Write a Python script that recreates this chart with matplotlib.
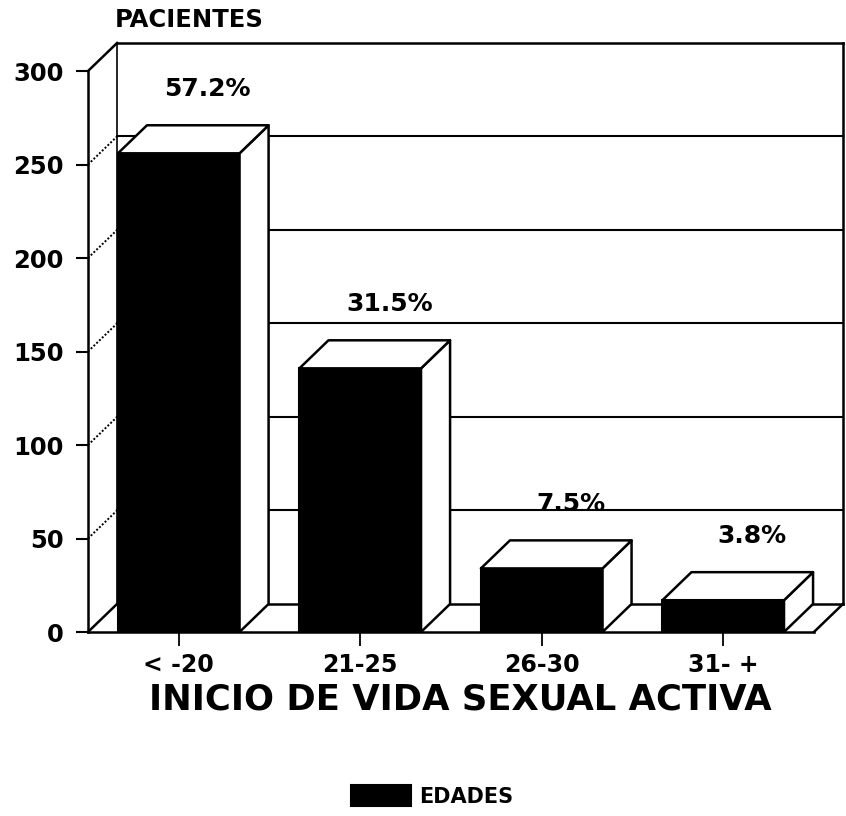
import matplotlib
matplotlib.use("Agg")
import matplotlib.pyplot as plt
from matplotlib.patches import Polygon

# ---- data ----
categories = ["< -20", "21-25", "26-30", "31- +"]
values = [256, 141, 34, 17]
percent_labels = ["57.2%", "31.5%", "7.5%", "3.8%"]
yticks = [0, 50, 100, 150, 200, 250, 300]
series_name = "EDADES"

# ---- layout ----
W, H = 846, 816
fig = plt.figure(figsize=(W / 100, H / 100), dpi=100)
fig.patch.set_facecolor("white")

px_left, px_right = 88, 843
px_bottom, px_top = 632, 43
ax = fig.add_axes([px_left / W, (H - px_bottom) / H,
                   (px_right - px_left) / W, (px_bottom - px_top) / H])

ymax = 300
dy = 15.0            # depth offset in data units (vertical)
dx = 0.16            # depth offset in category units (horizontal)
xmax = 4 + dx
ax.set_xlim(0, xmax)
ax.set_ylim(0, ymax + dy)
ax.set_facecolor("none")

lw = 1.8
FONT = "DejaVu Sans"

# back wall
ax.plot([dx, xmax], [ymax + dy, ymax + dy], color="black", lw=lw, zorder=1, clip_on=False)
ax.plot([xmax, xmax], [dy, ymax + dy], color="black", lw=lw, zorder=1, clip_on=False)
ax.plot([dx, dx], [dy, ymax + dy], color="black", lw=1.2, zorder=1, clip_on=False)
ax.plot([dx, xmax], [dy, dy], color="black", lw=lw, zorder=1, clip_on=False)
# side / floor diagonals
ax.plot([0, dx], [ymax, ymax + dy], color="black", lw=lw, zorder=1, clip_on=False)
ax.plot([0, dx], [0, dy], color="black", lw=lw, zorder=1, clip_on=False)
ax.plot([4, xmax], [0, dy], color="black", lw=lw, zorder=1, clip_on=False)
for v in yticks[1:-1]:
    ax.plot([0, dx], [v, v + dy], color="black", lw=1.4, ls=(0, (1, 1)), zorder=1)
    ax.plot([dx, xmax], [v + dy, v + dy], color="black", lw=1.5, zorder=1)

# bars
pos = [i + 0.5 for i in range(len(categories))]
bw = 0.67
ax.bar(pos, values, width=bw, color="black", edgecolor="black", linewidth=1.5,
       label=series_name, zorder=3)
for c, v in zip(pos, values):
    l, r = c - bw / 2, c + bw / 2
    top = Polygon([(l, v), (r, v), (r + dx, v + dy), (l + dx, v + dy)], closed=True,
                  facecolor="white", edgecolor="black", lw=lw, zorder=3, joinstyle="round")
    side = Polygon([(r, 0), (r + dx, dy), (r + dx, v + dy), (r, v)], closed=True,
                   facecolor="white", edgecolor="black", lw=lw, zorder=3, joinstyle="round")
    ax.add_patch(side)
    ax.add_patch(top)

for c, v, t in zip(pos, values, percent_labels):
    ax.text(c + dx, v + dy + 13, t, ha="center", va="bottom", fontsize=18,
            fontweight="bold", family=FONT, zorder=5)

# axes styling
for s in ["top", "right"]:
    ax.spines[s].set_visible(False)
ax.spines["left"].set_bounds(0, ymax)
ax.spines["left"].set_linewidth(lw)
ax.spines["bottom"].set_bounds(0, 4)
ax.spines["bottom"].set_linewidth(lw)
ax.set_yticks(yticks)
ax.set_yticklabels([str(v) for v in yticks], fontsize=17.5, fontweight="bold", family=FONT)
ax.tick_params(axis="y", length=8.6, width=1.5, pad=9, direction="out")
ax.set_xticks(pos)
ax.set_xticklabels(categories, fontsize=17, fontweight="bold", family=FONT)
ax.tick_params(axis="x", length=10, width=1.3, pad=5, direction="out")

fig.text(115 / W, 1 - 20 / H, "PACIENTES", ha="left", va="center", fontsize=17.5,
         fontweight="bold", family=FONT)
fig.text(460 / W, 1 - 700 / H, "INICIO DE VIDA SEXUAL ACTIVA", ha="center", va="center",
         fontsize=25.5, fontweight="bold", family=FONT)

leg = ax.legend(loc="center", bbox_to_anchor=(432 / W, 1 - 796 / H),
                bbox_transform=fig.transFigure, frameon=False,
                prop={"size": 15, "weight": "bold", "family": FONT},
                handlelength=2.9, handleheight=1.15, handletextpad=0.4)

fig.savefig("out.png", dpi=100, facecolor="white")
